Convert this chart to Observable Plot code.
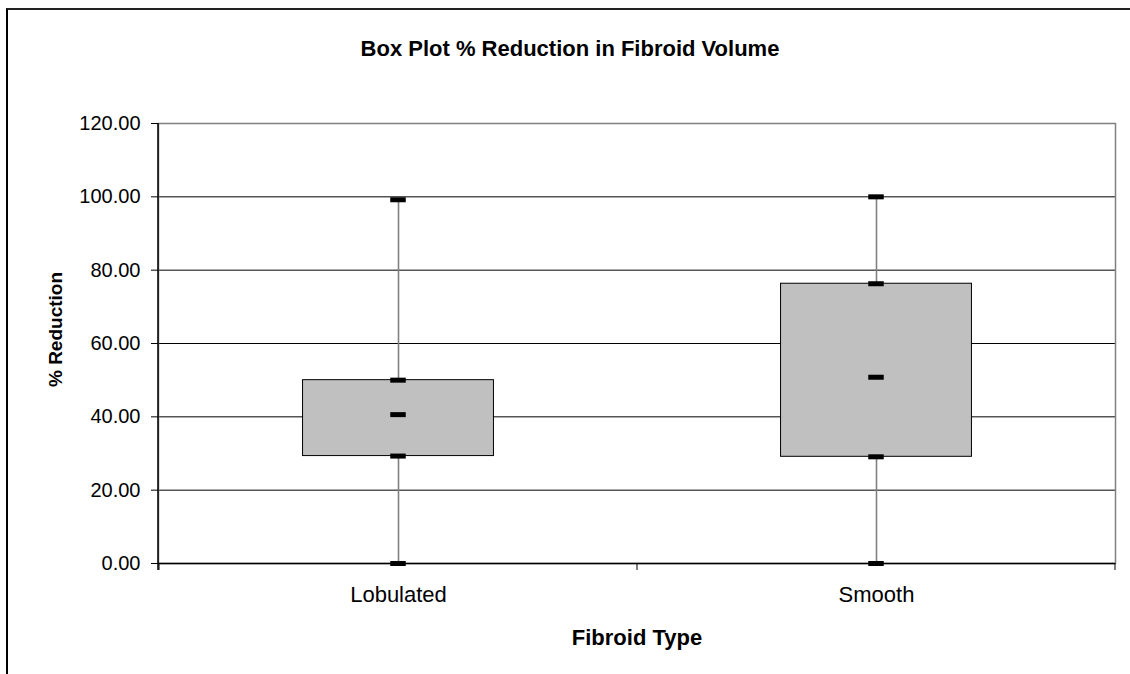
<!DOCTYPE html>
<html>
<head>
<meta charset="utf-8">
<script src="https://cdn.jsdelivr.net/npm/d3@7"></script>
<script src="https://cdn.jsdelivr.net/npm/@observablehq/plot@0.6"></script>
<style>
  html, body { margin: 0; padding: 0; background: #fff; }
  #wrap { position: relative; width: 1130px; height: 674px; overflow: hidden; }
  #border { position: absolute; left: 6px; top: 8px; width: 1200px; height: 700px;
            border-left: 2px solid #000; border-top: 2px solid #222; box-sizing: border-box; }
  #chart { position: absolute; left: 0; top: 0; }
</style>
</head>
<body>
<div id="wrap"><div id="border"></div><div id="chart"></div></div>
<script>
const titleText = "Box Plot % Reduction in Fibroid Volume";
const yTitle = "% Reduction";
const xTitle = "Fibroid Type";
const categories = ["Lobulated", "Smooth"];
const minVals = [0, 0];
const q1Vals = [29.3, 29.1];
const medianVals = [40.6, 50.8];
const q3Vals = [50.0, 76.3];
const maxVals = [99.2, 100.0];
const yTicks = [0, 20, 40, 60, 80, 100, 120];

const rows = categories.map((c, i) => ({
  cat: c, min: minVals[i], q1: q1Vals[i], median: medianVals[i], q3: q3Vals[i], max: maxVals[i]
}));
const markers = rows.flatMap(r => ["min", "q1", "median", "q3", "max"].map(k => ({cat: r.cat, v: r[k]})));

const W = 1130, H = 674;
const mL = 158, mR = 15, mT = 123, mB = 111;
const band = (W - mL - mR) / categories.length;
const boxInset = band * 0.3;
const markInset = (band - 16) / 2;
const font = "'Liberation Sans', Arial, sans-serif";

const plot = Plot.plot({
  width: W, height: H,
  marginLeft: mL, marginRight: mR, marginTop: mT, marginBottom: mB,
  style: {fontFamily: font, background: "transparent", overflow: "visible"},
  x: {type: "band", domain: categories, padding: 0, label: null},
  y: {domain: [0, 120], label: null},
  marks: [
    Plot.ruleY(yTicks.slice(1, -1), {stroke: "#000", strokeWidth: 1}),
    Plot.frame({stroke: "#808080", strokeWidth: 1.5}),
    Plot.ruleX(rows, {x: "cat", y1: "min", y2: "max", stroke: "#808080", strokeWidth: 1.6}),
    Plot.barY(rows, {x: "cat", y1: "q1", y2: "q3", fill: "#c0c0c0", stroke: "#000", strokeWidth: 1,
      insetLeft: boxInset, insetRight: boxInset}),
    Plot.ruleY([0], {stroke: "#000", strokeWidth: 1.5}),
    Plot.tickY(markers, {x: "cat", y: "v", stroke: "#000", strokeWidth: 5,
      insetLeft: markInset, insetRight: markInset}),
    Plot.axisY({ticks: yTicks, tickFormat: d3.format(".2f"), tickSize: 7, tickPadding: 11,
      fontSize: 20, color: "#000", label: null}),
    Plot.axisX({tickSize: 0, tickPadding: 23, fontSize: 22, color: "#000", label: null}),
    Plot.text([titleText], {text: d => d, frameAnchor: "top", dx: -67, dy: -75, fontSize: 22,
      fontWeight: "bold", fill: "#000", lineAnchor: "middle"}),
    Plot.text([yTitle], {text: d => d, frameAnchor: "left", textAnchor: "middle", dx: -103, dy: -14,
      rotate: -90, fontSize: 19, fontWeight: "bold", fill: "#000", lineAnchor: "middle"}),
    Plot.text([xTitle], {text: d => d, frameAnchor: "bottom", dy: 74, fontSize: 22,
      fontWeight: "bold", fill: "#000", lineAnchor: "middle"})
  ]
});

document.getElementById("chart").appendChild(plot);

// axis line on the left and category boundary ticks
const xs = plot.scale("x"), ys = plot.scale("y");
const svg = d3.select(plot);
const x0 = xs.range[0], x1 = xs.range[1];
const yb = ys.apply(0), yt = ys.apply(120);
svg.append("line").attr("x1", x0).attr("x2", x0).attr("y1", yt).attr("y2", yb + 7)
  .attr("stroke", "#000").attr("stroke-width", 1.5);
const bounds = categories.map(c => xs.apply(c)).concat([x1]);
svg.selectAll("line.bt").data(bounds).join("line").attr("class", "bt")
  .attr("x1", d => d).attr("x2", d => d).attr("y1", yb).attr("y2", yb + 7)
  .attr("stroke", "#000").attr("stroke-width", 1);
</script>
</body>
</html>
